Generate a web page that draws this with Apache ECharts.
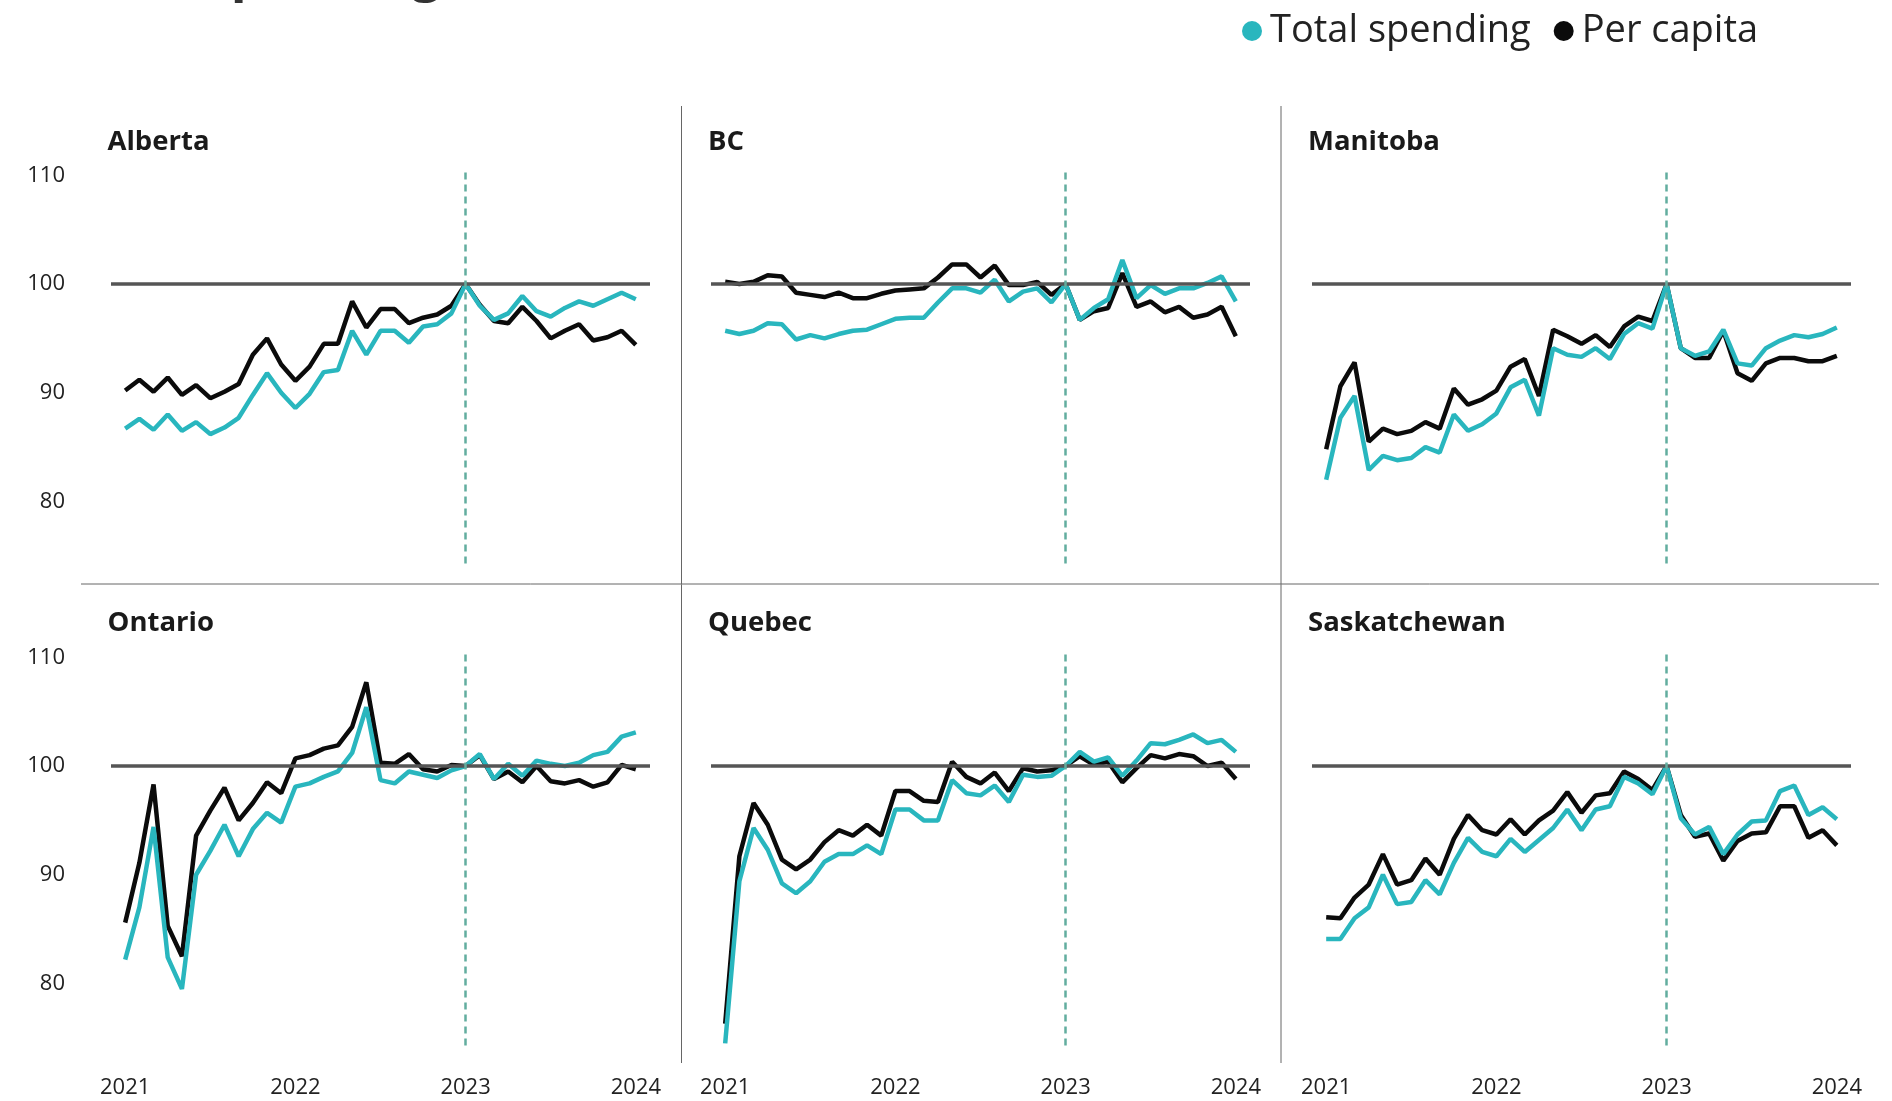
<!DOCTYPE html>
<html>
<head>
<meta charset="utf-8">
<title>Spending by province</title>
<script src="https://cdn.jsdelivr.net/npm/echarts@6/dist/echarts.min.js"></script>
<style>
html, body { margin: 0; padding: 0; background: #fff; }
#chart { width: 1892px; height: 1101px; }
</style>
</head>
<body>
<div id="chart"></div>
<script>
// index, Jan 2023 = 100 ; monthly Jan 2021 .. Jan 2024
var yearLabels = ['2021', '2022', '2023', '2024'];
var yearTicks = [0, 12, 24, 36];          // month index of each January
var yLabels = [80, 90, 100, 110];
var baseMonth = 24;                        // Jan 2023

var albertaTotal = [86.7, 87.6, 86.6, 88.0, 86.5, 87.3, 86.2, 86.8, 87.7, 89.8, 91.8, 90.0, 88.6, 89.9, 91.9, 92.1, 95.7, 93.5, 95.7, 95.7, 94.6, 96.1, 96.3, 97.3, 100, 98.0, 96.7, 97.3, 98.9, 97.5, 97.0, 97.8, 98.4, 98.0, 98.6, 99.2, 98.6];
var albertaPerCapita = [90.2, 91.2, 90.1, 91.4, 89.8, 90.7, 89.5, 90.1, 90.8, 93.5, 95.0, 92.6, 91.1, 92.4, 94.5, 94.5, 98.4, 96.0, 97.7, 97.7, 96.4, 96.9, 97.2, 98.0, 100, 98.1, 96.6, 96.4, 97.9, 96.6, 95.0, 95.7, 96.3, 94.8, 95.1, 95.7, 94.4];

var bcTotal = [95.7, 95.4, 95.7, 96.4, 96.3, 94.9, 95.3, 95.0, 95.4, 95.7, 95.8, 96.3, 96.8, 96.9, 96.9, 98.3, 99.6, 99.6, 99.2, 100.4, 98.4, 99.3, 99.6, 98.3, 100, 96.7, 97.8, 98.6, 102.2, 98.7, 99.9, 99.1, 99.6, 99.6, 100.1, 100.7, 98.4];
var bcPerCapita = [100.2, 100.0, 100.2, 100.8, 100.7, 99.2, 99.0, 98.8, 99.2, 98.7, 98.7, 99.1, 99.4, 99.5, 99.6, 100.6, 101.8, 101.8, 100.6, 101.7, 99.9, 99.9, 100.2, 99.0, 100, 96.7, 97.5, 97.8, 101.0, 97.9, 98.4, 97.4, 97.9, 96.9, 97.2, 97.9, 95.2];

var manitobaTotal = [82.0, 87.7, 89.7, 82.9, 84.2, 83.8, 84.0, 85.0, 84.5, 88.0, 86.5, 87.1, 88.1, 90.5, 91.2, 87.9, 94.1, 93.5, 93.3, 94.1, 93.1, 95.4, 96.4, 95.9, 100, 94.1, 93.4, 93.8, 95.8, 92.7, 92.5, 94.1, 94.8, 95.3, 95.1, 95.4, 96.0];
var manitobaPerCapita = [84.8, 90.6, 92.8, 85.5, 86.7, 86.2, 86.5, 87.3, 86.7, 90.4, 88.9, 89.4, 90.2, 92.4, 93.1, 89.7, 95.8, 95.2, 94.5, 95.3, 94.2, 96.1, 97.0, 96.6, 100, 94.1, 93.2, 93.2, 95.7, 91.8, 91.1, 92.7, 93.2, 93.2, 92.9, 92.9, 93.4];

var ontarioTotal = [82.2, 87.0, 94.4, 82.4, 79.5, 90.0, 92.2, 94.6, 91.7, 94.2, 95.7, 94.8, 98.1, 98.4, 99.0, 99.5, 101.2, 105.4, 98.7, 98.4, 99.5, 99.2, 98.9, 99.6, 100, 101.1, 98.8, 100.2, 99.1, 100.5, 100.2, 100.0, 100.3, 101.0, 101.3, 102.7, 103.1];
var ontarioPerCapita = [85.6, 91.1, 98.3, 85.3, 82.5, 93.6, 95.9, 98.0, 95.0, 96.6, 98.5, 97.5, 100.7, 101.0, 101.6, 101.9, 103.6, 107.7, 100.3, 100.2, 101.1, 99.7, 99.5, 100.1, 100, 101.0, 98.8, 99.5, 98.5, 100.0, 98.6, 98.4, 98.7, 98.1, 98.5, 100.1, 99.7];

var quebecTotal = [74.5, 89.4, 94.3, 92.3, 89.2, 88.3, 89.4, 91.2, 91.9, 91.9, 92.7, 91.9, 96.0, 96.0, 95.0, 95.0, 98.7, 97.5, 97.3, 98.2, 96.7, 99.2, 99.0, 99.1, 100, 101.3, 100.4, 100.8, 99.1, 100.5, 102.1, 102.0, 102.4, 102.9, 102.1, 102.4, 101.3];
var quebecPerCapita = [76.3, 91.7, 96.6, 94.6, 91.4, 90.5, 91.4, 93.0, 94.1, 93.6, 94.6, 93.6, 97.7, 97.7, 96.8, 96.7, 100.4, 99.0, 98.4, 99.4, 97.7, 99.8, 99.5, 99.6, 100, 100.9, 100.1, 100.4, 98.5, 99.8, 101.0, 100.7, 101.1, 100.9, 100.0, 100.3, 98.8];

var saskTotal = [84.1, 84.1, 86.0, 87.0, 90.0, 87.3, 87.5, 89.5, 88.2, 91.1, 93.4, 92.1, 91.7, 93.3, 92.1, 93.2, 94.3, 96.0, 94.1, 96.0, 96.3, 99.0, 98.4, 97.4, 100, 95.2, 93.7, 94.4, 91.9, 93.7, 94.9, 95.0, 97.7, 98.2, 95.5, 96.2, 95.1];
var saskPerCapita = [86.1, 86.0, 87.9, 89.1, 91.9, 89.1, 89.5, 91.5, 90.0, 93.3, 95.5, 94.1, 93.7, 95.1, 93.7, 95.0, 95.9, 97.6, 95.7, 97.3, 97.5, 99.5, 98.8, 97.8, 100, 95.5, 93.5, 93.8, 91.3, 93.1, 93.8, 93.9, 96.3, 96.3, 93.4, 94.1, 92.7];

var panels = [
    {name: 'Alberta', total: albertaTotal, perCapita: albertaPerCapita},
    {name: 'BC', total: bcTotal, perCapita: bcPerCapita},
    {name: 'Manitoba', total: manitobaTotal, perCapita: manitobaPerCapita},
    {name: 'Ontario', total: ontarioTotal, perCapita: ontarioPerCapita},
    {name: 'Quebec', total: quebecTotal, perCapita: quebecPerCapita},
    {name: 'Saskatchewan', total: saskTotal, perCapita: saskPerCapita}
];

var TEAL = '#29b6be';
var BLACK = '#0b0b0b';
var FONT = 'Open Sans';

var colLeft = [111, 711, 1312];
var rowTop = [172, 654];
var gridW = 539, gridH = 391.5;
var titleX = [107.5, 708, 1308];
var titleY = [142, 623.5];

function toPoints(values) {
    return values.map(function (v, i) { return [i, v]; });
}

var grids = [], xAxes = [], yAxes = [], series = [], graphics = [];

panels.forEach(function (p, k) {
    var col = k % 3, row = Math.floor(k / 3);
    grids.push({left: colLeft[col], top: rowTop[row], width: gridW, height: gridH});
    xAxes.push({
        type: 'value', gridIndex: k, min: -1, max: 37,
        axisLine: {show: false}, axisTick: {show: false}, splitLine: {show: false},
        axisLabel: {
            show: row === 1, customValues: yearTicks, margin: 31,
            fontSize: 22, fontFamily: FONT, color: '#222',
            formatter: function (v) { return yearLabels[yearTicks.indexOf(v)]; }
        }
    });
    yAxes.push({
        type: 'value', gridIndex: k, min: 74.3, max: 110.3,
        axisLine: {show: false}, axisTick: {show: false}, splitLine: {show: false},
        axisLabel: {
            show: col === 0, customValues: yLabels, margin: 46,
            fontSize: 22, fontFamily: FONT, color: '#222'
        }
    });
    // reference lines: 100 level and Jan 2023 marker
    series.push({
        name: 'ref', type: 'line', xAxisIndex: k, yAxisIndex: k, z: 1,
        data: toPoints(p.total), symbol: 'none', silent: true,
        lineStyle: {opacity: 0},
        markLine: {
            silent: true, symbol: ['none', 'none'], label: {show: false},
            data: [
                {yAxis: 100, lineStyle: {color: '#555', width: 3.5, type: 'solid'}},
                {xAxis: baseMonth, lineStyle: {color: '#62ad9f', width: 2.5, type: [7, 5]}}
            ]
        }
    });
    series.push({
        name: 'Per capita', type: 'line', xAxisIndex: k, yAxisIndex: k, z: 2,
        data: toPoints(p.perCapita), symbol: 'none', clip: false,
        itemStyle: {color: BLACK}, lineStyle: {color: BLACK, width: 4.5}
    });
    series.push({
        name: 'Total spending', type: 'line', xAxisIndex: k, yAxisIndex: k, z: 3,
        data: toPoints(p.total), symbol: 'none', clip: false,
        itemStyle: {color: TEAL}, lineStyle: {color: TEAL, width: 4.5}
    });
    graphics.push({
        type: 'text', silent: true,
        style: {x: titleX[col], y: titleY[row], text: p.name, fill: '#1a1a1a',
                font: 'bold 27.5px "Open Sans"', textVerticalAlign: 'middle'}
    });
});

// panel separators
graphics.push(
    {type: 'line', silent: true, shape: {x1: 681.5, y1: 106, x2: 681.5, y2: 1063}, style: {stroke: '#666', lineWidth: 1}},
    {type: 'line', silent: true, shape: {x1: 1281, y1: 106, x2: 1281, y2: 1063}, style: {stroke: '#666', lineWidth: 1}},
    {type: 'line', silent: true, shape: {x1: 81, y1: 584, x2: 1879, y2: 584}, style: {stroke: '#666', lineWidth: 1}}
);
// page title, cut off by the top edge
graphics.push(
    {type: 'text', silent: true, style: {x: 441, y: -25, text: 'Retail spending', fill: '#333',
        font: 'bold 52px "Open Sans"', textAlign: 'right', textVerticalAlign: 'middle'}},
    {type: 'text', silent: true, style: {x: 455, y: -25, text: '(Index 2023 = 100)', fill: '#333',
        font: '52px "Open Sans"', textAlign: 'left', textVerticalAlign: 'middle'}}
);

var chart = echarts.init(document.getElementById('chart'), null, {renderer: 'canvas'});
chart.setOption({
    animation: false,
    backgroundColor: '#fff',
    legend: {
        data: [{name: 'Total spending', icon: 'circle'}, {name: 'Per capita', icon: 'circle'}],
        left: 1237, top: 7, itemWidth: 20, itemHeight: 20, itemGap: 23,
        textStyle: {fontSize: 38, fontFamily: FONT, color: '#222', padding: [0, 0, 0, 3]}
    },
    grid: grids,
    xAxis: xAxes,
    yAxis: yAxes,
    series: series,
    graphic: graphics
});
</script>
</body>
</html>
